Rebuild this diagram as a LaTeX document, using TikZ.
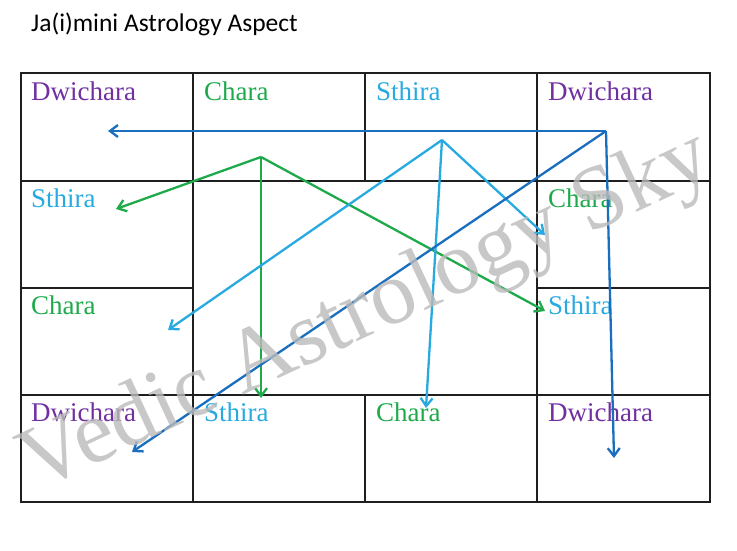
\documentclass[tikz,border=0pt]{standalone}
\usepackage{fontspec}
\setmainfont{Liberation Serif}
\newfontfamily\titlefont{Carlito}
\usetikzlibrary{arrows.meta}
\definecolor{dwi}{RGB}{112,48,160}
\definecolor{cha}{RGB}{30,170,75}
\definecolor{sth}{RGB}{40,170,225}
\definecolor{dblue}{RGB}{25,110,190}
\definecolor{wm}{RGB}{186,186,186}
\tikzset{
  grid/.style={line width=2.3pt, black!88},
  thin grid/.style={line width=1.6pt, black!88},
  lbl/.style={anchor=base west, inner sep=0pt, font=\fontsize{27}{27}\selectfont},
  arr/.style={line width=2.3pt, -{Straight Barb[length=8pt,width=12pt]}},
  garr/.style={arr, cha},
  larr/.style={arr, sth},
  darr/.style={arr, dblue},
}
\begin{document}
\begin{tikzpicture}[x=1pt,y=-1pt]
\useasboundingbox (0,0) rectangle (737,551);
% title
\node[anchor=base west, inner sep=0pt, font=\titlefont\fontsize{25.5}{25.5}\selectfont] (title) at (31,32) {Ja(i)mini Astrology Aspect};
% grid
\draw[grid] (21,73) rectangle (710,502);
\draw[grid] (21,181) -- (710,181);
\draw[grid] (21,395) -- (710,395);
\draw[grid] (193,73) -- (193,502);
\draw[grid] (537,73) -- (537,502);
\draw[grid] (365,73) -- (365,181);
\draw[grid] (365,395) -- (365,502);
\draw[thin grid] (21,288) -- (193,288);
\draw[thin grid] (537,288) -- (710,288);
% labels
\node[lbl, dwi] (l1) at (31,100) {Dwichara};
\node[lbl, cha] (l2) at (204,100) {Chara};
\node[lbl, sth] (l3) at (376,100) {Sthira};
\node[lbl, dwi] (l4) at (548,100) {Dwichara};
\node[lbl, sth] (l5) at (31,207) {Sthira};
\node[lbl, cha] (l6) at (548,207) {Chara};
\node[lbl, cha] (l7) at (31,314) {Chara};
\node[lbl, sth] (l8) at (548,314) {Sthira};
\node[lbl, dwi] (l9) at (31,421) {Dwichara};
\node[lbl, sth] (l10) at (204,421) {Sthira};
\node[lbl, cha] (l11) at (376,421) {Chara};
\node[lbl, dwi] (l12) at (548,421) {Dwichara};
% arrow points
\coordinate (gs) at (261,157);
\coordinate (ls) at (442,140);
\coordinate (ds) at (606,131);
\coordinate (g1) at (116,209);
\coordinate (g2) at (261,398);
\coordinate (g3) at (545,311);
\coordinate (b1) at (168,330);
\coordinate (b2) at (426,408);
\coordinate (b3) at (545,235);
\coordinate (d1) at (108,131);
\coordinate (d2) at (132,452);
\coordinate (d3) at (614,458);
% arrows
\draw[garr] (gs) -- (g1);
\draw[garr] (gs) -- (g2);
\draw[garr] (gs) -- (g3);
\draw[larr] (ls) -- (b1);
\draw[larr] (ls) -- (b2);
\draw[larr] (ls) -- (b3);
\draw[darr] (ds) -- (d1);
\draw[darr] (ds) -- (d2);
\draw[darr] (ds) -- (d3);
% watermark
\node[anchor=base west, inner sep=0pt, rotate=25, text=wm, text opacity=0.8, font=\fontsize{90}{90}\selectfont] (wmk) at (36,492) {Vedic Astrology Sky};
\end{tikzpicture}
\end{document}
